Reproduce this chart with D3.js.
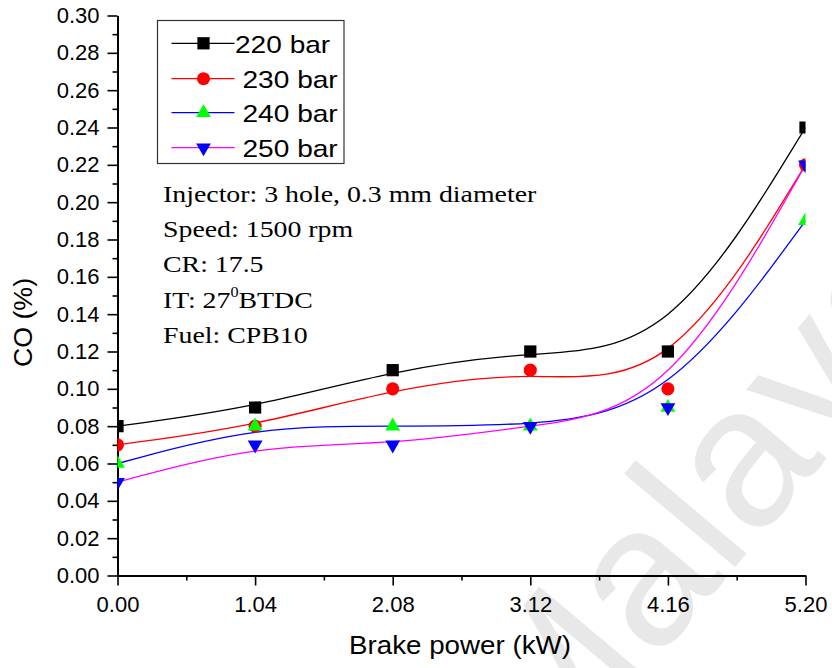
<!DOCTYPE html>
<html><head><meta charset="utf-8">
<script src="https://cdn.jsdelivr.net/npm/d3@7"></script>
<style>body{margin:0;background:#fff}svg{display:block}</style>
</head><body>
<svg id="chart" width="832" height="668"></svg>
<script>
// ---- data ----
const brakePower = [0, 1.04, 2.08, 3.12, 4.16, 5.20];
const xTickLabels = ["0.00", "1.04", "2.08", "3.12", "4.16", "5.20"];
const yTickValues = [0, 0.02, 0.04, 0.06, 0.08, 0.10, 0.12, 0.14, 0.16, 0.18, 0.20, 0.22, 0.24, 0.26, 0.28, 0.30];
const seriesNames = ["220 bar", "230 bar", "240 bar", "250 bar"];
const co220 = [0.08, 0.09, 0.11, 0.12, 0.12, 0.24];
const co230 = [0.07, 0.08, 0.10, 0.11, 0.10, 0.22];
const co240 = [0.06, 0.08, 0.08, 0.08, 0.09, 0.19];
const co250 = [0.05, 0.07, 0.07, 0.08, 0.09, 0.22];
const infoLines = ["Injector: 3 hole, 0.3 mm diameter", "Speed: 1500 rpm", "CR: 17.5", "IT: 27|0|BTDC", "Fuel: CPB10"];
const xTitle = "Brake power (kW)";
const yTitle = "CO (%)";
const watermark = "Malaya";

const series = [
  {name: seriesNames[0], values: co220, line: "#000000", fill: "#000000", sym: "square"},
  {name: seriesNames[1], values: co230, line: "#ff0000", fill: "#ff0000", sym: "circle"},
  {name: seriesNames[2], values: co240, line: "#0000ff", fill: "#00ff00", sym: "up"},
  {name: seriesNames[3], values: co250, line: "#ff00ff", fill: "#0000ff", sym: "down"}
];

const svg = d3.select("#chart");
const L = 117.5, R = 805.5, T = 15.5, B = 575.5;
const x = d3.scaleLinear().domain([0, 5.2]).range([L, R]);
const y = d3.scaleLinear().domain([0, 0.30]).range([B, T]);

function addText(parent, px, py, str, o) {
  const g = parent.append("g").attr("transform", `translate(${px},${py}) rotate(${o.rot||0}) scale(${o.sx||1},1)`);
  return g.append("text").attr("x", 0).attr("y", 0)
    .attr("font-family", o.family || "'Liberation Sans', Arial, sans-serif")
    .attr("font-size", o.size).attr("text-anchor", o.anchor || "start")
    .attr("fill", o.fill || "#000").text(str);
}

// watermark (faint, behind everything)
addText(svg, 548, 790, watermark, {size: 200, rot: -50, fill: "#e8e8e8"});

// clip
svg.append("defs").append("clipPath").attr("id", "plotclip")
  .append("rect").attr("x", L).attr("y", T - 10).attr("width", R - L).attr("height", B - T + 10);

// axes
const fontTick = "'Liberation Sans', Arial, sans-serif";
const xMinor = d3.range(0, 10).map(i => i * 0.52 + 0.52).filter((v, i) => i % 2 === 0);
const yMinor = d3.range(0, 15).map(i => i * 0.02 + 0.01);

const gxMinor = svg.append("g").attr("transform", `translate(0,${B})`)
  .call(d3.axisBottom(x).tickValues(xMinor).tickSize(5).tickSizeOuter(0).tickFormat(""));
const gyMinor = svg.append("g").attr("transform", `translate(${L},0)`)
  .call(d3.axisLeft(y).tickValues(yMinor).tickSize(5).tickSizeOuter(0).tickFormat(""));
const gx = svg.append("g").attr("transform", `translate(0,${B})`)
  .call(d3.axisBottom(x).tickValues(brakePower).tickSize(10).tickSizeOuter(0).tickPadding(11)
    .tickFormat((d, i) => xTickLabels[i]));
const gy = svg.append("g").attr("transform", `translate(${L},0)`)
  .call(d3.axisLeft(y).tickValues(yTickValues).tickSize(10).tickSizeOuter(0).tickPadding(8)
    .tickFormat(d3.format(".2f")));
[gx, gy, gxMinor, gyMinor].forEach(g => {
  g.selectAll(".domain").attr("stroke", "#000").attr("stroke-width", 2);
  g.selectAll(".tick line").attr("stroke", "#000").attr("stroke-width", 1.6);
  g.selectAll("text").attr("font-family", fontTick).attr("font-size", 22).attr("fill", "#000");
});

// axis titles
addText(svg, 460, 654, xTitle, {size: 25, anchor: "middle", sx: 1.11});
const yt = svg.append("g").attr("transform", `translate(32,322.5) rotate(-90) scale(1.07,1)`);
yt.append("text").attr("text-anchor", "middle").attr("font-family", fontTick).attr("font-size", 25).text(yTitle);

// curves and markers
const line = d3.line().x((d, i) => x(brakePower[i])).y(d => y(d)).curve(d3.curveBasis);
const symOf = s => {
  if (s === "square") return d3.symbol().type(d3.symbolSquare).size(150)();
  if (s === "circle") return d3.symbol().type(d3.symbolCircle).size(135)();
  return d3.symbol().type(d3.symbolTriangle).size(95)();
};
const plot = svg.append("g").attr("clip-path", "url(#plotclip)");
series.forEach(s => {
  plot.append("path").attr("d", line(s.values)).attr("fill", "none")
    .attr("stroke", s.line).attr("stroke-width", 1.3);
});
series.forEach(s => {
  plot.selectAll(null).data(s.values).enter().append("path")
    .attr("d", symOf(s.sym)).attr("fill", s.fill)
    .attr("transform", (d, i) => `translate(${x(brakePower[i])},${y(d)})` + (s.sym === "down" ? " rotate(180)" : ""));
});

// legend
const lg = svg.append("g");
lg.append("rect").attr("x", 157.5).attr("y", 20.5).attr("width", 186.5).attr("height", 143)
  .attr("fill", "#fff").attr("stroke", "#333").attr("stroke-width", 1.2);
const rowY = [43.3, 78.7, 112.7, 147.7];
series.forEach((s, i) => {
  lg.append("line").attr("x1", 171.5).attr("x2", 234.5).attr("y1", rowY[i]).attr("y2", rowY[i])
    .attr("stroke", s.line).attr("stroke-width", 1.3);
  lg.append("path").attr("d", symOf(s.sym)).attr("fill", s.fill)
    .attr("transform", `translate(203.5,${rowY[i]})` + (s.sym === "down" ? " rotate(180)" : ""));
  addText(lg, i === 0 ? 235 : 242.5, rowY[i] + 9.5, s.name, {size: 24, sx: 1.17});
});

// info text
const serif = "'Liberation Serif', 'Times New Roman', serif";
infoLines.forEach((t, i) => {
  const by = 201.5 + i * 35.4;
  const parts = t.split("|");
  const g = svg.append("g").attr("transform", `translate(163,${by}) scale(1.16,1)`);
  const tx = g.append("text").attr("font-family", serif).attr("font-size", 24).attr("fill", "#000");
  tx.append("tspan").text(parts[0]);
  if (parts.length > 1) {
    tx.append("tspan").attr("font-size", 14).attr("dy", -11).text(parts[1]);
    tx.append("tspan").attr("dy", 11).text(parts[2]);
  }
});
</script>
</body></html>
